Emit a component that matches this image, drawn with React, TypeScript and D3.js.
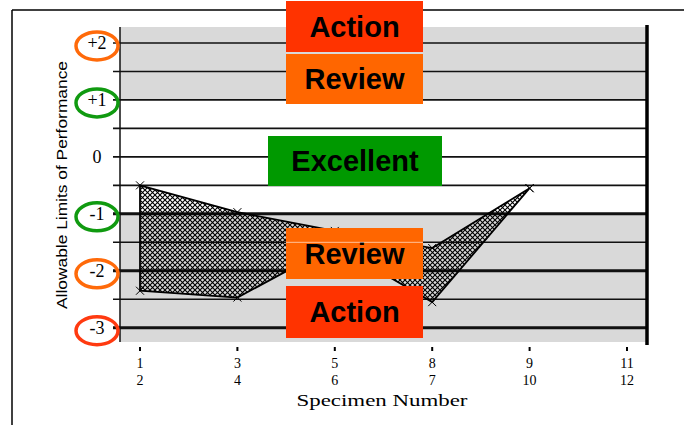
import React from 'react'
import * as d3 from 'd3'

// specimen pairs along the x axis (top row / bottom row of each tick label)
const topLabels = ['1', '3', '5', '8', '9', '11']
const bottomLabels = ['2', '4', '6', '7', '10', '12']

// allowable limits of performance at each specimen pair
const upperValues = [-0.5, -0.97, -1.3, -1.6, -0.55]
const lowerValues = [-2.35, -2.47, -1.55, -2.55, -0.55]

const yTickValues = [2, 1, 0, -1, -2, -3]
const yTickLabels = ['+2', '+1', '0', '-1', '-2', '-3']
const gridValues = d3.range(-3, 2.01, 0.5)
const thickGrid = [-1, -2, -3]

// coloured rings round some of the y labels
const ringValues = [2, 1, -1, -2, -3]
const ringColors = ['#ff6a0a', '#109a10', '#109a10', '#ff6a0a', '#ff3a10']

// rating boxes laid over the chart
const boxes = [
  { label: 'Action', color: '#ff3300', x: 286, y: 1, w: 137, h: 51 },
  { label: 'Review', color: '#ff6600', x: 286, y: 54, w: 137, h: 50 },
  { label: 'Excellent', color: '#009900', x: 268, y: 136, w: 174, h: 50 },
  { label: 'Review', color: '#ff6600', x: 286, y: 228, w: 137, h: 51 },
  { label: 'Action', color: '#ff3300', x: 286, y: 286, w: 137, h: 52 },
]

export default function App() {
  const width = 684
  const height = 425
  const left = 120
  const right = 647
  const top = 27
  const bottom = 342

  const x = d3.scaleLinear().domain([0, topLabels.length - 1]).range([140, 627])
  const y = d3.scaleLinear().domain([-3.25, 2.28]).range([bottom, top])

  const area = d3.area<number>()
    .x((d, i) => x(i))
    .y0((d, i) => y(lowerValues[i]))
    .y1(d => y(d))

  const cross = (cx: number, cy: number, r = 4) =>
    `M${cx - r},${cy - r}L${cx + r},${cy + r}M${cx - r},${cy + r}L${cx + r},${cy - r}`

  const points = upperValues.map((v, i) => ({ i, v })).concat(lowerValues.map((v, i) => ({ i, v })))

  return (
    <svg width={width} height={height} style={{ position: 'absolute', left: 0, top: 0, background: '#fff' }}>
      <defs>
        <pattern id="hatch" width={5} height={5} patternUnits="userSpaceOnUse">
          <path d="M0,0L5,5M5,0L0,5" stroke="#000" strokeWidth={1.1} />
        </pattern>
      </defs>

      {/* outer frame */}
      <line x1={12} x2={width} y1={10} y2={10} stroke="#000" strokeWidth={1.5} />
      <line x1={12} x2={12} y1={10} y2={height} stroke="#000" strokeWidth={1.5} />

      {/* shaded bands */}
      <rect x={left} y={top} width={right - left} height={y(1) - top} fill="#d9d9d9" />
      <rect x={left} y={y(-1)} width={right - left} height={bottom - y(-1)} fill="#d9d9d9" />

      {/* grid lines */}
      {gridValues.map(v => (
        <line key={v} x1={113} x2={right} y1={y(v)} y2={y(v)}
          stroke="#111" strokeWidth={thickGrid.includes(v) ? 3 : 1.6} />
      ))}

      <line x1={left} x2={left} y1={top} y2={bottom} stroke="#111" strokeWidth={1.5} />
      <line x1={right} x2={right} y1={top - 2} y2={bottom + 3} stroke="#000" strokeWidth={3.5} />

      {/* hatched range */}
      <path d={area(upperValues) || ''} fill="url(#hatch)" stroke="#000" strokeWidth={1.8} />
      {points.map((p, k) => (
        <path key={k} d={cross(x(p.i), y(p.v))} stroke="#000" strokeWidth={1} />
      ))}

      {/* y labels */}
      {yTickValues.map((v, i) => (
        <text key={v} x={97} y={y(v) + 6} textAnchor="middle" fontFamily="Liberation Serif" fontSize={18} fill="#000">
          {yTickLabels[i]}
        </text>
      ))}
      {ringValues.map((v, i) => (
        <ellipse key={v} cx={97} cy={y(v) + 3} rx={21} ry={14} fill="none" stroke={ringColors[i]} strokeWidth={3.5} />
      ))}

      <text transform={`translate(67,${185}) rotate(-90)`} textAnchor="middle" fontFamily="Liberation Sans"
        fontSize={15} textLength={248} lengthAdjust="spacingAndGlyphs" fill="#000">
        Allowable Limits of Performance
      </text>

      {/* x ticks */}
      {topLabels.map((t, i) => (
        <g key={i} transform={`translate(${x(i)},0)`}>
          <rect x={-1} y={347} width={2} height={4} fill="#000" />
          <text y={368} textAnchor="middle" fontFamily="Liberation Serif" fontSize={14} fill="#000">{t}</text>
          <text y={385} textAnchor="middle" fontFamily="Liberation Serif" fontSize={14} fill="#000">{bottomLabels[i]}</text>
        </g>
      ))}
      <text x={382} y={406} textAnchor="middle" fontFamily="Liberation Serif" fontSize={16}
        textLength={171} lengthAdjust="spacingAndGlyphs" fill="#000">
        Specimen Number
      </text>

      {/* rating boxes */}
      {boxes.map((b, i) => (
        <g key={i}>
          <rect x={b.x} y={b.y} width={b.w} height={b.h} fill={b.color} />
          <text x={b.x + b.w / 2} y={b.y + b.h / 2 + 10} textAnchor="middle" fontFamily="Liberation Sans"
            fontWeight="bold" fontSize={29} fill="#000">{b.label}</text>
        </g>
      ))}
      <line x1={286} x2={423} y1={y(-1.5)} y2={y(-1.5)} stroke="#fff" strokeOpacity={0.6} strokeWidth={1} />
    </svg>
  )
}
